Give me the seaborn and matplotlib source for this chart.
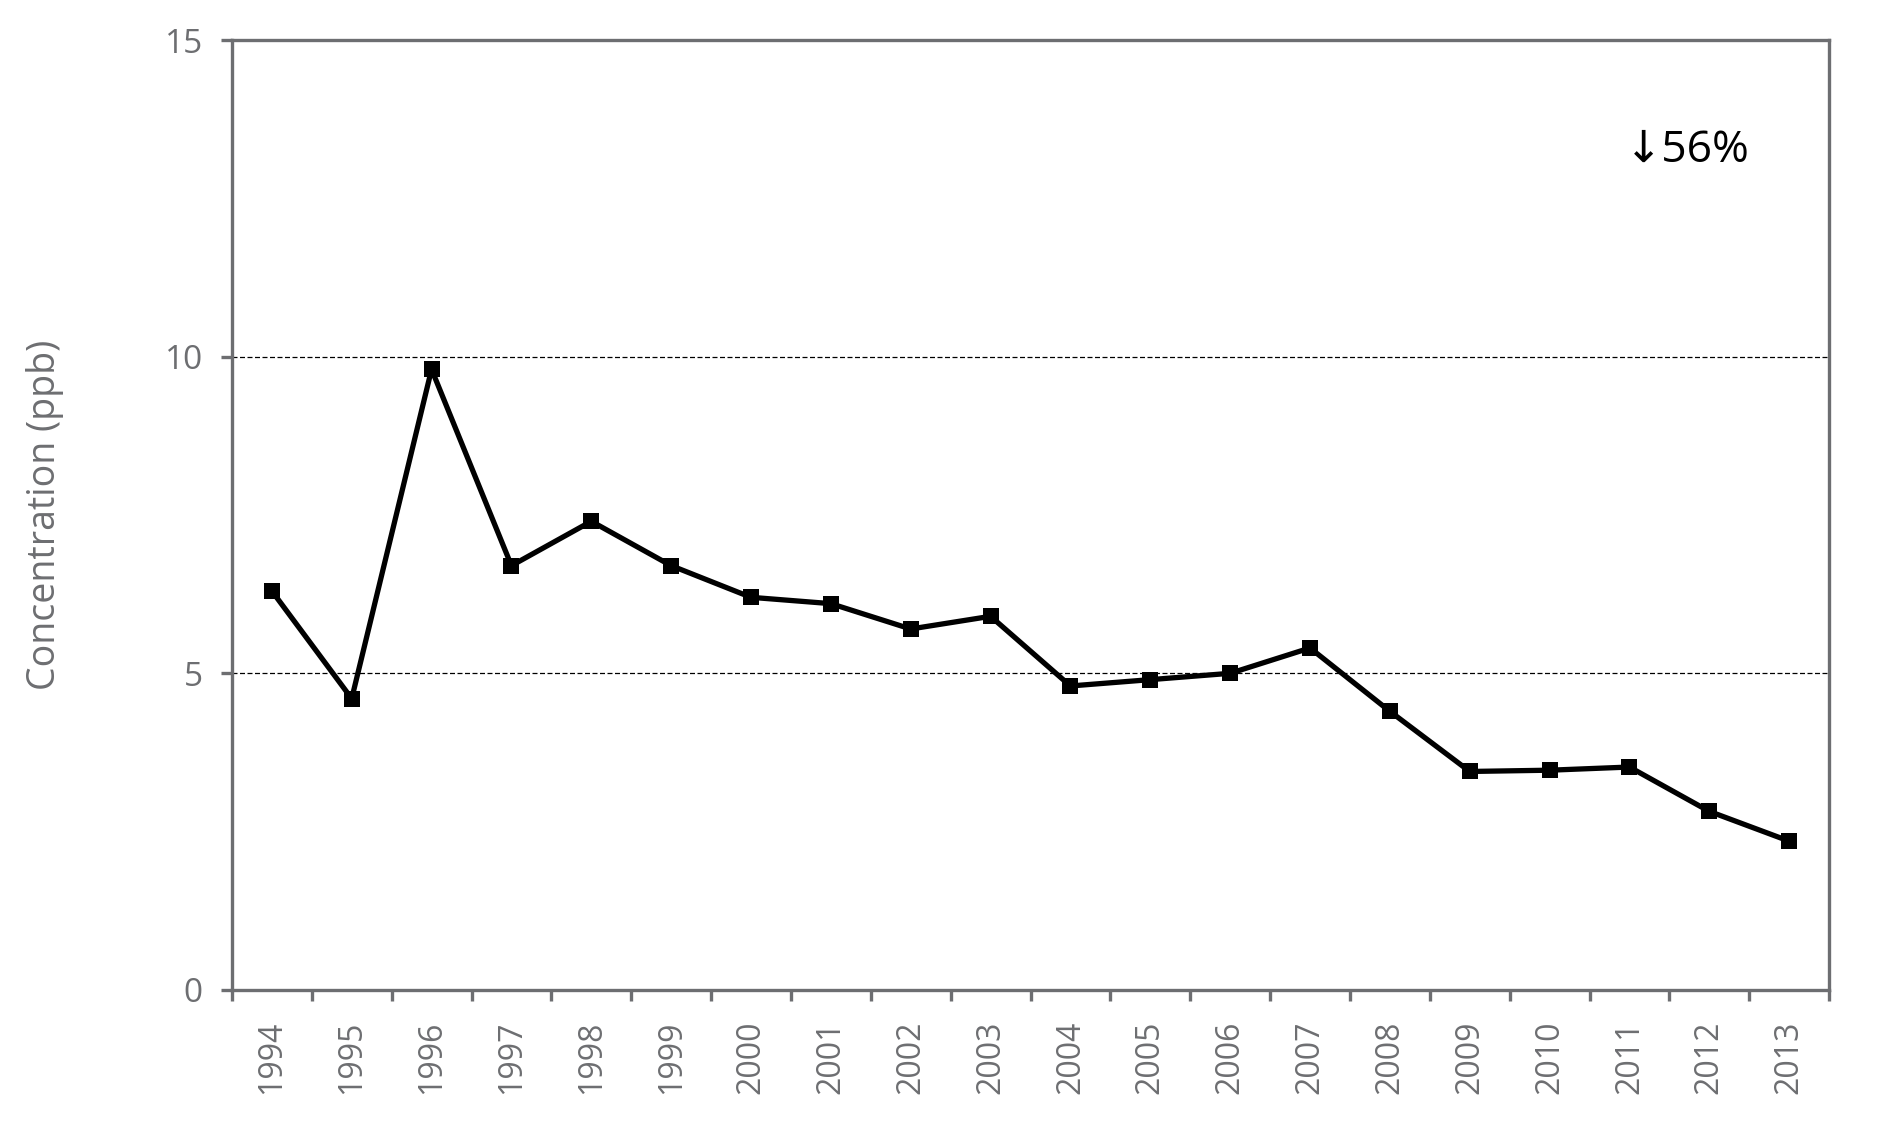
import matplotlib
matplotlib.use("Agg")
import matplotlib.pyplot as plt
import seaborn as sns
import pandas as pd
import numpy as np
from matplotlib.ticker import FixedLocator, NullFormatter, FixedFormatter

years = ["1994", "1995", "1996", "1997", "1998", "1999", "2000", "2001", "2002", "2003",
         "2004", "2005", "2006", "2007", "2008", "2009", "2010", "2011", "2012", "2013"]
concentration = [6.3, 4.6, 9.8, 6.7, 7.4, 6.7, 6.2, 6.1, 5.7, 5.9,
                 4.8, 4.9, 5.0, 5.4, 4.4, 3.45, 3.47, 3.52, 2.82, 2.35]
y_ticks = [0, 5, 10, 15]
grid_levels = [5, 10]
y_label = "Concentration (ppb)"
annotation = "↓56%"

sns.set_theme(style="white")
plt.rcParams['font.family'] = ['Open Sans', 'DejaVu Sans']

gray = "#6D6E71"
df = pd.DataFrame({"idx": np.arange(len(years)), "value": concentration})

fig = plt.figure(figsize=(18.81, 11.27), dpi=100)
ax = fig.add_axes([0.1233, 0.1216, 0.9724 - 0.1233, 0.9645 - 0.1216])

for g in grid_levels:
    ax.axhline(g, color="black", lw=0.9, ls=(0, (4, 2)), zorder=1)

sns.lineplot(data=df, x="idx", y="value", ax=ax, color="black", lw=3.8,
             marker="s", markersize=12, markeredgecolor="black", markeredgewidth=0,
             zorder=3)

ax.set_xlim(-0.5, len(years) - 0.5)
ax.set_ylim(0, 15)
ax.set_yticks(y_ticks)
ax.set_yticklabels([str(t) for t in y_ticks])

ax.xaxis.set_major_locator(FixedLocator(np.arange(-0.5, len(years), 1.0)))
ax.xaxis.set_major_formatter(NullFormatter())
ax.xaxis.set_minor_locator(FixedLocator(np.arange(len(years))))
ax.xaxis.set_minor_formatter(FixedFormatter(years))
ax.tick_params(axis="x", which="major", direction="out", length=8, width=2.4,
               color=gray, bottom=True)
ax.tick_params(axis="x", which="minor", length=0, pad=22, labelsize=23,
               labelcolor=gray, labelrotation=90, bottom=True)
ax.tick_params(axis="y", which="major", direction="out", length=8, width=2.4,
               color=gray, pad=13, labelsize=24, labelcolor=gray, left=True)

for s in ax.spines.values():
    s.set_visible(True)
    s.set_color(gray)
    s.set_linewidth(2.4)

ax.set_xlabel("")
ax.set_ylabel(y_label, fontsize=27, color=gray)
ax.yaxis.set_label_coords(-0.105, 0.5)

ax.text(0.872, 0.872, annotation, transform=ax.transAxes, fontsize=32,
        color="black", ha="left", va="baseline")

fig.savefig("out.png", dpi=100)
